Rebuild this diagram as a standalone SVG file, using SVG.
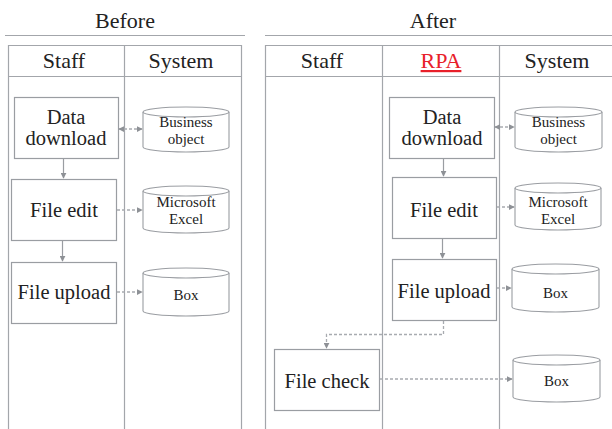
<svg xmlns="http://www.w3.org/2000/svg" width="612" height="429" viewBox="0 0 612 429">
<defs>
<style>
.ln{stroke:#a3a6ab;stroke-width:1.2;fill:none}
.bx{stroke:#9a9da2;stroke-width:1.2;fill:#fff}
.cy{stroke:#9a9da2;stroke-width:1.1;fill:#fff}
.ar{stroke:#9a9da2;stroke-width:1.2;fill:none}
.da{stroke:#a8abb0;stroke-width:1.3;fill:none;stroke-dasharray:3 2}
.t{font-family:"Liberation Serif","Times New Roman",serif;fill:#222;text-anchor:middle}
.h{font-size:22px}
.b{font-size:20.5px}
.c{font-size:15px}
</style>
<marker id="ah" viewBox="0 0 8 8" refX="7" refY="4" markerWidth="6" markerHeight="6" orient="auto-start-reverse" markerUnits="userSpaceOnUse">
<path d="M0,0 L8,4 L0,8 Z" fill="#8e9196"/>
</marker>
</defs>

<g id="frame">
<text class="t h" x="125" y="28">Before</text>
<line class="ln" x1="5" y1="35.5" x2="245" y2="35.5"/>
<path class="ln" d="M8.5,429 V45.5 H241.5 V429 M8.5,76.5 H241.5 M124.5,45.5 V429"/>
<text class="t h" x="64" y="68">Staff</text>
<text class="t h" x="181" y="68">System</text>

<text class="t h" x="433" y="28">After</text>
<line class="ln" x1="265" y1="35.5" x2="612" y2="35.5"/>
<path class="ln" d="M265.5,429 V45.5 H612 M265.5,76.5 H612 M382.5,45.5 V429 M499.5,45.5 V429"/>
<text class="t h" x="322" y="68">Staff</text>
<text class="t h" x="441" y="68" style="fill:#e8202a;text-decoration:underline">RPA</text>
<text class="t h" x="557" y="68">System</text>
</g>

<g id="b-download"><rect class="bx" x="14.5" y="97.5" width="104" height="61"/><text class="t b" x="66" y="124">Data</text><text class="t b" x="66" y="145">download</text></g>
<g id="b-edit"><rect class="bx" x="11.5" y="179.5" width="105" height="61"/><text class="t b" x="64" y="217">File edit</text></g>
<g id="b-upload"><rect class="bx" x="11.5" y="262.5" width="105" height="61"/><text class="t b" x="64" y="299">File upload</text></g>

<g id="b-business"><path class="cy" d="M143,112 V147 A43,5 0 0 0 229,147 V112"/><ellipse class="cy" cx="186" cy="112" rx="43" ry="5"/><text class="t c" x="186" y="127">Business</text><text class="t c" x="186" y="144">object</text></g>
<g id="b-excel"><path class="cy" d="M143,191 V228 A43,5 0 0 0 229,228 V191"/><ellipse class="cy" cx="186" cy="191" rx="43" ry="5"/><text class="t c" x="186" y="207">Microsoft</text><text class="t c" x="186" y="224">Excel</text></g>
<g id="b-box"><path class="cy" d="M143,273 V311 A43,5 0 0 0 229,311 V273"/><ellipse class="cy" cx="186" cy="273" rx="43" ry="5"/><text class="t c" x="186" y="300">Box</text></g>

<g id="a-download"><rect class="bx" x="389.5" y="97.5" width="105" height="61"/><text class="t b" x="442" y="124">Data</text><text class="t b" x="442" y="145">download</text></g>
<g id="a-edit"><rect class="bx" x="392.5" y="177.5" width="104" height="61"/><text class="t b" x="444" y="217">File edit</text></g>
<g id="a-upload"><rect class="bx" x="392.5" y="259.5" width="104" height="61"/><text class="t b" x="444" y="298">File upload</text></g>
<g id="a-check"><rect class="bx" x="274.5" y="349.5" width="105" height="61"/><text class="t b" x="327" y="388">File check</text></g>

<g id="a-business"><path class="cy" d="M515,112 V147 A43.5,5 0 0 0 602,147 V112"/><ellipse class="cy" cx="558.5" cy="112" rx="43.5" ry="5"/><text class="t c" x="558.5" y="127">Business</text><text class="t c" x="558.5" y="144">object</text></g>
<g id="a-excel"><path class="cy" d="M515,188 V225 A43,5 0 0 0 601,225 V188"/><ellipse class="cy" cx="558" cy="188" rx="43" ry="5"/><text class="t c" x="558" y="207">Microsoft</text><text class="t c" x="558" y="224">Excel</text></g>
<g id="a-box1"><path class="cy" d="M512,269 V307 A43.5,5 0 0 0 599,307 V269"/><ellipse class="cy" cx="555.5" cy="269" rx="43.5" ry="5"/><text class="t c" x="555.5" y="298">Box</text></g>
<g id="a-box2"><path class="cy" d="M513,360 V397 A43.5,5 0 0 0 600,397 V360"/><ellipse class="cy" cx="556.5" cy="360" rx="43.5" ry="5"/><text class="t c" x="556.5" y="386">Box</text></g>

<g id="connectors">
<line class="ar" x1="63.5" y1="159" x2="63.5" y2="178" marker-end="url(#ah)"/>
<line class="ar" x1="62.5" y1="241" x2="62.5" y2="261" marker-end="url(#ah)"/>
<line class="da" x1="119" y1="129" x2="142" y2="129" marker-start="url(#ah)" marker-end="url(#ah)"/>
<line class="da" x1="117" y1="210" x2="142" y2="210" marker-end="url(#ah)"/>
<line class="da" x1="117" y1="292" x2="142" y2="292" marker-end="url(#ah)"/>

<line class="ar" x1="443.5" y1="159" x2="443.5" y2="176" marker-end="url(#ah)"/>
<line class="ar" x1="442.5" y1="239" x2="442.5" y2="258" marker-end="url(#ah)"/>
<line class="da" x1="495" y1="127" x2="514" y2="127" marker-start="url(#ah)" marker-end="url(#ah)"/>
<line class="da" x1="497" y1="207" x2="514" y2="207" marker-end="url(#ah)"/>
<line class="da" x1="497" y1="288" x2="511" y2="288" marker-end="url(#ah)"/>
<path class="da" d="M443.5,321 V334.5 H326.5 V348" marker-end="url(#ah)"/>
<line class="da" x1="380" y1="379" x2="512" y2="379" marker-end="url(#ah)"/>
</g>
</svg>
